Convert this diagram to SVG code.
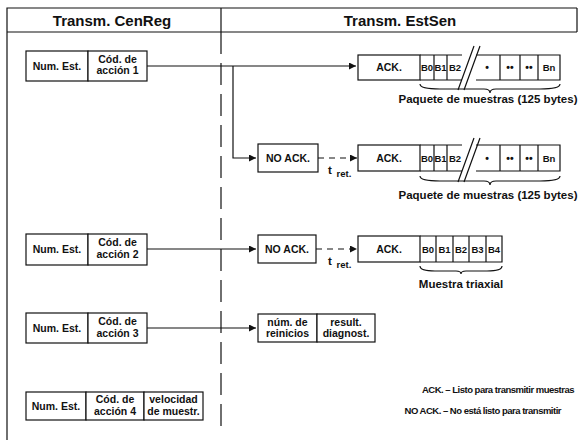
<svg xmlns="http://www.w3.org/2000/svg" width="579" height="440" viewBox="0 0 579 440">
<style>
.b{fill:#fff;stroke:#111;stroke-width:1.2}
.l{fill:none;stroke:#111;stroke-width:1.2}
.d{fill:none;stroke:#111;stroke-width:1.2;stroke-dasharray:6 5}
.t{font-family:"Liberation Sans",Arial,sans-serif;font-weight:bold;font-size:10.5px;fill:#111;text-anchor:middle}
.c{font-family:"Liberation Sans",Arial,sans-serif;font-weight:bold;font-size:9.5px;fill:#111;text-anchor:middle}
.h{font-family:"Liberation Sans",Arial,sans-serif;font-weight:bold;font-size:15px;fill:#111;text-anchor:middle}
.s{font-family:"Liberation Sans",Arial,sans-serif;font-weight:bold;font-size:11.5px;fill:#111;text-anchor:middle}
.r{font-family:"Liberation Sans",Arial,sans-serif;font-weight:bold;font-size:9.5px;fill:#111;text-anchor:end;letter-spacing:-0.5px}
</style>
<defs>
<marker id="a" viewBox="0 0 10 10" refX="10" refY="5" markerWidth="8" markerHeight="7" markerUnits="userSpaceOnUse" orient="auto"><path d="M0,0 L10,5 L0,10 z" fill="#111"/></marker>
</defs>
<rect width="579" height="440" fill="#fff"/>
<g id="frame">
<path class="l" d="M7,440 V8 H577 M7,32 H577 M221,8 V32 M577,8 V32"/>
<path class="l" d="M221,32 V432" stroke-dasharray="22 9"/>
<text class="h" x="112" y="26">Transm. CenReg</text>
<text class="h" x="400" y="26">Transm. EstSen</text>
</g>
<g id="connectors">
<path class="l" d="M147,66 H356" marker-end="url(#a)"/>
<path class="l" d="M233,66 V158 H256" marker-end="url(#a)"/>
<path class="d" d="M318,158 H357" marker-end="url(#a)"/>
<path class="l" d="M147,249 H256" marker-end="url(#a)"/>
<path class="d" d="M316,249 H357" marker-end="url(#a)"/>
<path class="l" d="M147,328 H256" marker-end="url(#a)"/>
</g>
<g id="n1">
<rect class="b" x="26" y="51" width="62" height="30"/>
<rect class="b" x="88" y="51" width="59" height="30"/>
<text class="t" x="57" y="70">Num. Est.</text>
<text class="t" x="117.5" y="63">Cód. de</text>
<text class="t" x="117.5" y="74">acción 1</text>
</g>
<g id="p1">
<rect class="b" x="358" y="55" width="62" height="25"/>
<path class="l" d="M420,55 H462 M476,55 H560 V80 H476 M462,80 H420 M434,55 V80 M447,55 V80 M500,55 V80 M520,55 V80 M538,55 V80"/>
<path class="l" d="M458,90 L474,46 M464,90 L480,46"/>
<text class="t" x="389" y="71">ACK.</text>
<text class="c" x="427" y="71">B0</text>
<text class="c" x="440.5" y="71">B1</text>
<text class="c" x="455" y="71">B2</text>
<text class="t" x="487" y="71">•</text>
<text class="t" x="510" y="71">••</text>
<text class="t" x="529" y="71">••</text>
<text class="c" x="549" y="71">Bn</text>
<path class="l" d="M420,84 Q420,89 440,89 H484 Q490,89 490,93 Q490,89 496,89 H540 Q560,89 560,84" stroke-width="1"/>
<text class="s" x="488" y="103">Paquete de muestras (125 bytes)</text>
</g>
<g id="nak1">
<rect class="b" x="258" y="144" width="60" height="28"/>
<text class="t" x="288" y="162">NO ACK.</text>
<text class="s" x="330" y="174">t</text>
<text class="c" x="344" y="177">ret.</text>
</g>
<g id="p2">
<rect class="b" x="358" y="145" width="62" height="26"/>
<path class="l" d="M420,145 H462 M476,145 H560 V171 H476 M462,171 H420 M434,145 V171 M447,145 V171 M500,145 V171 M520,145 V171 M538,145 V171"/>
<path class="l" d="M458,182 L474,138 M464,182 L480,138"/>
<text class="t" x="389" y="162">ACK.</text>
<text class="c" x="427" y="162">B0</text>
<text class="c" x="440.5" y="162">B1</text>
<text class="c" x="455" y="162">B2</text>
<text class="t" x="487" y="162">•</text>
<text class="t" x="510" y="162">••</text>
<text class="t" x="529" y="162">••</text>
<text class="c" x="549" y="162">Bn</text>
<path class="l" d="M420,176 Q420,181 440,181 H484 Q490,181 490,185 Q490,181 496,181 H540 Q560,181 560,176" stroke-width="1"/>
<text class="s" x="488" y="199">Paquete de muestras (125 bytes)</text>
</g>
<g id="n2">
<rect class="b" x="26" y="234" width="62" height="31"/>
<rect class="b" x="88" y="234" width="59" height="31"/>
<text class="t" x="57" y="253">Num. Est.</text>
<text class="t" x="117.5" y="246">Cód. de</text>
<text class="t" x="117.5" y="258">acción 2</text>
</g>
<g id="nak2">
<rect class="b" x="258" y="235" width="58" height="28"/>
<text class="t" x="287" y="253">NO ACK.</text>
<text class="s" x="330" y="265">t</text>
<text class="c" x="344" y="268">ret.</text>
</g>
<g id="p3">
<rect class="b" x="358" y="236" width="62" height="26"/>
<path class="l" d="M420,236 H502 V262 H420 M436,236 V262 M453,236 V262 M469,236 V262 M486,236 V262"/>
<text class="t" x="389" y="253">ACK.</text>
<text class="c" x="428" y="253">B0</text>
<text class="c" x="444.5" y="253">B1</text>
<text class="c" x="461" y="253">B2</text>
<text class="c" x="477.5" y="253">B3</text>
<text class="c" x="494" y="253">B4</text>
<path class="l" d="M420,266 Q420,271 435,271 H456 Q461,271 461,274 Q461,271 466,271 H487 Q502,271 502,266" stroke-width="1"/>
<text class="s" x="461" y="288">Muestra triaxial</text>
</g>
<g id="n3">
<rect class="b" x="26" y="313" width="62" height="30"/>
<rect class="b" x="88" y="313" width="59" height="30"/>
<text class="t" x="57" y="332">Num. Est.</text>
<text class="t" x="117.5" y="325">Cód. de</text>
<text class="t" x="117.5" y="337">acción 3</text>
</g>
<g id="r3">
<rect class="b" x="258" y="314" width="59" height="28"/>
<rect class="b" x="317" y="314" width="58" height="28"/>
<text class="t" x="287.5" y="326">núm. de</text>
<text class="t" x="287.5" y="337">reinicios</text>
<text class="t" x="346" y="326">result.</text>
<text class="t" x="346" y="337">diagnost.</text>
</g>
<g id="n4">
<rect class="b" x="26" y="392" width="60" height="28"/>
<rect class="b" x="86" y="392" width="58" height="28"/>
<rect class="b" x="144" y="392" width="59" height="28"/>
<text class="t" x="56" y="410">Num. Est.</text>
<text class="t" x="115" y="403">Cód. de</text>
<text class="t" x="115" y="415">acción 4</text>
<text class="t" x="173.5" y="403">velocidad</text>
<text class="t" x="173.5" y="415">de muestr.</text>
</g>
<g id="legend">
<text class="r" x="574" y="393">ACK. – Listo para transmitir muestras</text>
<text class="r" x="561" y="414">NO ACK. – No está listo para transmitir</text>
</g>
</svg>
